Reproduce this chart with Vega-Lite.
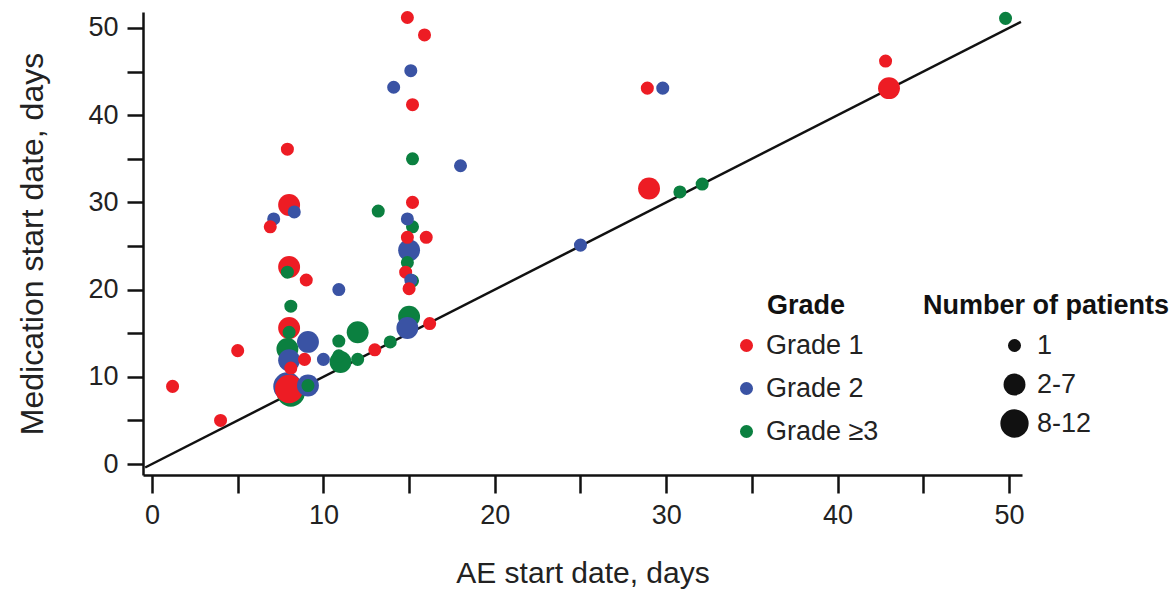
{
  "$schema": "https://vega.github.io/schema/vega-lite/v6.json",
  "width": 879,
  "height": 463,
  "autosize": "none",
  "padding": {"left": 143, "top": 12, "right": 153, "bottom": 114},
  "background": "white",
  "config": {
    "view": {"stroke": null},
    "font": "Liberation Sans",
    "axis": {"grid": false, "domainColor": "#111", "domainWidth": 2.5, "tickColor": "#111", "tickWidth": 2.5, "labelColor": "#222", "titleColor": "#222", "labelFont": "Liberation Sans", "titleFont": "Liberation Sans", "titleFontWeight": "normal"}
  },
  "datasets": {
    "diag": [{"ae": -0.4, "med": -0.4}, {"ae": 50.7, "med": 50.7}],
    "pts": [
      {"ae": 8.1, "med": 8.2, "grade": "Grade ≥3", "n": "8-12"},
      {"ae": 7.9, "med": 8.9, "grade": "Grade 2", "n": "8-12"},
      {"ae": 8.0, "med": 8.6, "grade": "Grade 1", "n": "8-12"},
      {"ae": 8.0, "med": 29.7, "grade": "Grade 1", "n": "2-7"},
      {"ae": 8.0, "med": 22.6, "grade": "Grade 1", "n": "2-7"},
      {"ae": 8.0, "med": 15.6, "grade": "Grade 1", "n": "2-7"},
      {"ae": 9.1, "med": 14.0, "grade": "Grade 2", "n": "2-7"},
      {"ae": 7.9, "med": 13.2, "grade": "Grade ≥3", "n": "2-7"},
      {"ae": 8.0, "med": 11.9, "grade": "Grade 2", "n": "2-7"},
      {"ae": 11.0, "med": 11.7, "grade": "Grade ≥3", "n": "2-7"},
      {"ae": 12.0, "med": 15.1, "grade": "Grade ≥3", "n": "2-7"},
      {"ae": 9.1, "med": 9.0, "grade": "Grade 2", "n": "2-7"},
      {"ae": 15.0, "med": 16.9, "grade": "Grade ≥3", "n": "2-7"},
      {"ae": 14.9, "med": 15.6, "grade": "Grade 2", "n": "2-7"},
      {"ae": 15.0, "med": 24.5, "grade": "Grade 2", "n": "2-7"},
      {"ae": 29.0, "med": 31.6, "grade": "Grade 1", "n": "2-7"},
      {"ae": 43.0, "med": 43.1, "grade": "Grade 1", "n": "2-7"},
      {"ae": 7.9, "med": 36.1, "grade": "Grade 1", "n": "1"},
      {"ae": 8.3, "med": 28.9, "grade": "Grade 2", "n": "1"},
      {"ae": 7.1, "med": 28.1, "grade": "Grade 2", "n": "1"},
      {"ae": 6.9, "med": 27.2, "grade": "Grade 1", "n": "1"},
      {"ae": 7.9, "med": 22.0, "grade": "Grade ≥3", "n": "1"},
      {"ae": 9.0, "med": 21.1, "grade": "Grade 1", "n": "1"},
      {"ae": 10.9, "med": 20.0, "grade": "Grade 2", "n": "1"},
      {"ae": 8.1, "med": 18.1, "grade": "Grade ≥3", "n": "1"},
      {"ae": 8.0, "med": 15.1, "grade": "Grade ≥3", "n": "1"},
      {"ae": 10.9, "med": 14.1, "grade": "Grade ≥3", "n": "1"},
      {"ae": 5.0, "med": 13.0, "grade": "Grade 1", "n": "1"},
      {"ae": 8.9, "med": 12.0, "grade": "Grade 1", "n": "1"},
      {"ae": 10.0, "med": 12.0, "grade": "Grade 2", "n": "1"},
      {"ae": 10.9, "med": 12.4, "grade": "Grade ≥3", "n": "1"},
      {"ae": 12.0, "med": 12.0, "grade": "Grade ≥3", "n": "1"},
      {"ae": 13.0, "med": 13.1, "grade": "Grade 1", "n": "1"},
      {"ae": 13.9, "med": 14.0, "grade": "Grade ≥3", "n": "1"},
      {"ae": 8.1, "med": 11.0, "grade": "Grade 1", "n": "1"},
      {"ae": 9.1, "med": 9.0, "grade": "Grade ≥3", "n": "1"},
      {"ae": 1.2, "med": 8.9, "grade": "Grade 1", "n": "1"},
      {"ae": 4.0, "med": 5.0, "grade": "Grade 1", "n": "1"},
      {"ae": 14.9, "med": 51.2, "grade": "Grade 1", "n": "1"},
      {"ae": 15.9, "med": 49.2, "grade": "Grade 1", "n": "1"},
      {"ae": 15.1, "med": 45.1, "grade": "Grade 2", "n": "1"},
      {"ae": 14.1, "med": 43.2, "grade": "Grade 2", "n": "1"},
      {"ae": 15.2, "med": 41.2, "grade": "Grade 1", "n": "1"},
      {"ae": 15.2, "med": 35.0, "grade": "Grade ≥3", "n": "1"},
      {"ae": 18.0, "med": 34.2, "grade": "Grade 2", "n": "1"},
      {"ae": 15.2, "med": 30.0, "grade": "Grade 1", "n": "1"},
      {"ae": 13.2, "med": 29.0, "grade": "Grade ≥3", "n": "1"},
      {"ae": 15.2, "med": 27.2, "grade": "Grade ≥3", "n": "1"},
      {"ae": 14.9, "med": 28.1, "grade": "Grade 2", "n": "1"},
      {"ae": 14.9, "med": 26.0, "grade": "Grade 1", "n": "1"},
      {"ae": 16.0, "med": 26.0, "grade": "Grade 1", "n": "1"},
      {"ae": 14.9, "med": 23.1, "grade": "Grade ≥3", "n": "1"},
      {"ae": 14.8, "med": 22.0, "grade": "Grade 1", "n": "1"},
      {"ae": 15.2, "med": 21.0, "grade": "Grade ≥3", "n": "1"},
      {"ae": 15.1, "med": 21.1, "grade": "Grade 2", "n": "1"},
      {"ae": 15.0, "med": 20.1, "grade": "Grade 1", "n": "1"},
      {"ae": 16.2, "med": 16.1, "grade": "Grade 1", "n": "1"},
      {"ae": 25.0, "med": 25.1, "grade": "Grade 2", "n": "1"},
      {"ae": 28.9, "med": 43.1, "grade": "Grade 1", "n": "1"},
      {"ae": 29.8, "med": 43.1, "grade": "Grade 2", "n": "1"},
      {"ae": 30.8, "med": 31.2, "grade": "Grade ≥3", "n": "1"},
      {"ae": 32.1, "med": 32.1, "grade": "Grade ≥3", "n": "1"},
      {"ae": 42.8, "med": 46.2, "grade": "Grade 1", "n": "1"},
      {"ae": 49.8, "med": 51.1, "grade": "Grade ≥3", "n": "1"}
    ]
  },
  "layer": [
    {
      "data": {"name": "diag"},
      "mark": {"type": "line", "color": "#111", "strokeWidth": 2.5, "clip": false},
      "encoding": {
        "x": {"field": "ae", "type": "quantitative", "scale": {"domain": [-0.525, 50.76], "nice": false, "zero": false}},
        "y": {"field": "med", "type": "quantitative", "scale": {"domain": [-1.26, 51.83], "nice": false, "zero": false}}
      }
    },
    {
      "data": {"name": "pts"},
      "mark": {"type": "point", "filled": true, "shape": "circle", "opacity": 1, "strokeWidth": 0, "clip": false},
      "encoding": {
        "x": {
          "field": "ae", "type": "quantitative",
          "scale": {"domain": [-0.525, 50.76], "nice": false, "zero": false},
          "axis": {"values": [0, 5, 10, 15, 20, 25, 30, 35, 40, 45, 50], "labelExpr": "datum.value % 10 === 0 ? datum.label : ''", "tickSize": 18, "labelPadding": 9, "labelFontSize": 27, "title": "AE start date, days", "titleFontSize": 30, "titlePadding": 30}
        },
        "y": {
          "field": "med", "type": "quantitative",
          "scale": {"domain": [-1.26, 51.83], "nice": false, "zero": false},
          "axis": {"values": [0, 5, 10, 15, 20, 25, 30, 35, 40, 45, 50], "labelExpr": "datum.value % 10 === 0 ? datum.label : ''", "tickSize": 16, "labelPadding": 9, "labelFontSize": 27, "title": "Medication start date, days", "titleFontSize": 32, "titlePadding": 38}
        },
        "color": {
          "field": "grade", "type": "nominal",
          "scale": {"domain": ["Grade 1", "Grade 2", "Grade ≥3"], "range": ["#ED1C24", "#3A53A4", "#0B8040"]},
          "legend": {"orient": "none", "legendX": 590, "legendY": 281, "title": "Grade", "titleFontSize": 27, "titleFontWeight": "bold", "titleColor": "#111", "titleAnchor": "middle", "labelFontSize": 27, "labelColor": "#222", "symbolType": "circle", "symbolSize": 170, "symbolStrokeWidth": 0, "rowPadding": 15, "labelOffset": 6, "titlePadding": 12}
        },
        "size": {
          "field": "n", "type": "ordinal",
          "scale": {"type": "ordinal", "domain": ["1", "2-7", "8-12"], "range": [170, 480, 800]},
          "legend": {"orient": "none", "legendX": 780, "legendY": 281, "title": "Number of patients", "titleLimit": 500, "titleFontSize": 27, "titleFontWeight": "bold", "titleColor": "#111", "titleAnchor": "middle", "labelFontSize": 27, "labelColor": "#222", "symbolType": "circle", "symbolFillColor": "#111", "symbolStrokeColor": "#111", "symbolStrokeWidth": 0, "rowPadding": 11, "labelOffset": 8, "titlePadding": 12,
            "encode": {"symbols": {"enter": {"size": {"signal": "datum.value === '1' ? 100 : datum.value === '2-7' ? 430 : 1200"}}, "update": {"size": {"signal": "datum.value === '1' ? 100 : datum.value === '2-7' ? 430 : 1200"}}}}}
        }
      }
    }
  ]
}
